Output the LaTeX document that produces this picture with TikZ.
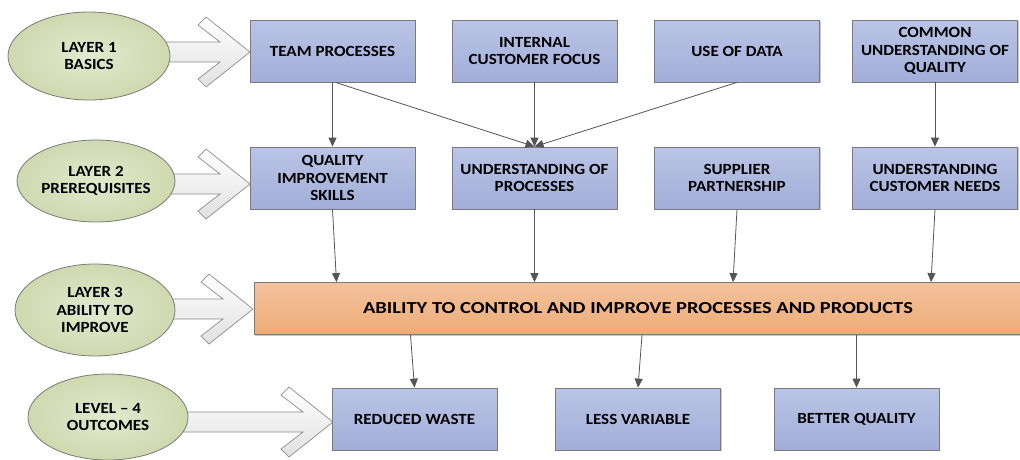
\documentclass[tikz,border=0pt]{standalone}
\usepackage{fontspec}
\setmainfont{Carlito}[FakeStretch=1.1]
\newfontfamily\barfont{Carlito}[FakeStretch=1.22]
\usetikzlibrary{arrows.meta,shadows,calc,shapes.geometric}
\definecolor{boxtop}{HTML}{BAC4E6}
\definecolor{boxbot}{HTML}{A2AED8}
\definecolor{orgtop}{HTML}{F3C29D}
\definecolor{orgbot}{HTML}{EDAC76}
\definecolor{elfill}{HTML}{E2E9CF}
\definecolor{eledge}{HTML}{CFD9AF}
\definecolor{lineclr}{HTML}{555555}
\definecolor{bordclr}{HTML}{7A7A7A}
\newcommand\blockarrow[3]{%
  \path[blockarr] (#1,#3-10) -- (#2-30,#3-10) -- (#2-52,#3-27) -- (#2-44,#3-35) -- (#2,#3)
    -- (#2-44,#3+35) -- (#2-52,#3+27) -- (#2-30,#3+10) -- (#1,#3+10) -- cycle;}
\begin{document}
\begin{tikzpicture}[x=1pt,y=-1pt,
  font=\bfseries\fontsize{15.5}{17.5}\selectfont,
  pbox/.style={draw=bordclr,line width=0.8pt,top color=boxtop,bottom color=boxbot,
    minimum width=165pt,minimum height=62pt,align=center,inner sep=2pt,
    drop shadow={shadow xshift=1.2pt,shadow yshift=-1.2pt,opacity=0.35,fill=black!60}},
  obox/.style={draw=bordclr,line width=0.8pt,top color=orgtop,bottom color=orgbot,
    minimum width=768pt,minimum height=52pt,align=center,
    font=\barfont\bfseries\fontsize{16.8}{18}\selectfont,
    drop shadow={shadow xshift=1.2pt,shadow yshift=-1.2pt,opacity=0.35,fill=black!60}},
  layer/.style={ellipse,draw=bordclr,line width=0.8pt,inner color=elfill,outer color=eledge,
    align=center,inner sep=0pt},
  blockarr/.style={draw=black!45,line width=0.7pt,top color=white,bottom color=black!12},
  conn/.style={draw=lineclr,line width=0.8pt,-{Triangle[length=9pt,width=8pt]}}
]
\useasboundingbox (0,0) rectangle (1020,459);
% block arrows
\blockarrow{100}{250}{52}
\blockarrow{100}{250}{184}
\blockarrow{100}{253}{309}
\blockarrow{110}{333}{422}
% layer ellipses
\node[layer,minimum width=162pt,minimum height=88pt] (l1) at (89,56) {LAYER 1\\BASICS};
\node[layer,minimum width=158pt,minimum height=82pt] (l2) at (96,181) {LAYER 2\\PREREQUISITES};
\node[layer,minimum width=160pt,minimum height=92pt] (l3) at (95,310) {LAYER 3\\ABILITY TO\\IMPROVE};
\node[layer,minimum width=160pt,minimum height=86pt] (l4) at (108,417) {LEVEL -- 4\\OUTCOMES};
% row 1
\node[pbox] (team) at (332.5,51) {TEAM PROCESSES};
\node[pbox] (icf) at (534.5,51) {INTERNAL\\CUSTOMER FOCUS};
\node[pbox] (data) at (737,51) {USE OF DATA};
\node[pbox] (cuq) at (935,51) {COMMON\\UNDERSTANDING OF\\QUALITY};
% row 2
\node[pbox] (qis) at (332.5,178) {QUALITY\\IMPROVEMENT\\SKILLS};
\node[pbox] (uop) at (534.5,178) {UNDERSTANDING OF\\PROCESSES};
\node[pbox] (sup) at (737,178) {SUPPLIER\\PARTNERSHIP};
\node[pbox] (ucn) at (935,178) {UNDERSTANDING\\CUSTOMER NEEDS};
% bar
\node[obox] (bar) at (638,308.5) {ABILITY TO CONTROL AND IMPROVE PROCESSES AND PRODUCTS};
% row 4
\node[pbox] (rw) at (414.5,419) {REDUCED WASTE};
\node[pbox] (lv) at (638,419) {LESS VARIABLE};
\node[pbox] (bq) at (856.5,419) {BETTER QUALITY};
% connectors
\draw[conn] (team.south) -- (qis.north);
\draw[conn] ([xshift=3pt]team.south) -- (uop.north);
\draw[conn] (icf.south) -- (uop.north);
\draw[conn] (data.south) -- (uop.north);
\draw[conn] (cuq.south) -- (ucn.north);
\draw[conn] (qis.south) -- ([xshift=4pt]qis.south |- bar.north);
\draw[conn] (uop.south) -- (uop.south |- bar.north);
\draw[conn] (sup.south) -- ([xshift=-4pt]sup.south |- bar.north);
\draw[conn] (ucn.south) -- ([xshift=-4pt]ucn.south |- bar.north);
\draw[conn] ([xshift=-4pt]rw.north |- bar.south) -- (rw.north);
\draw[conn] ([xshift=4pt]lv.north |- bar.south) -- (lv.north);
\draw[conn] (bq.north |- bar.south) -- (bq.north);
\end{tikzpicture}
\end{document}
